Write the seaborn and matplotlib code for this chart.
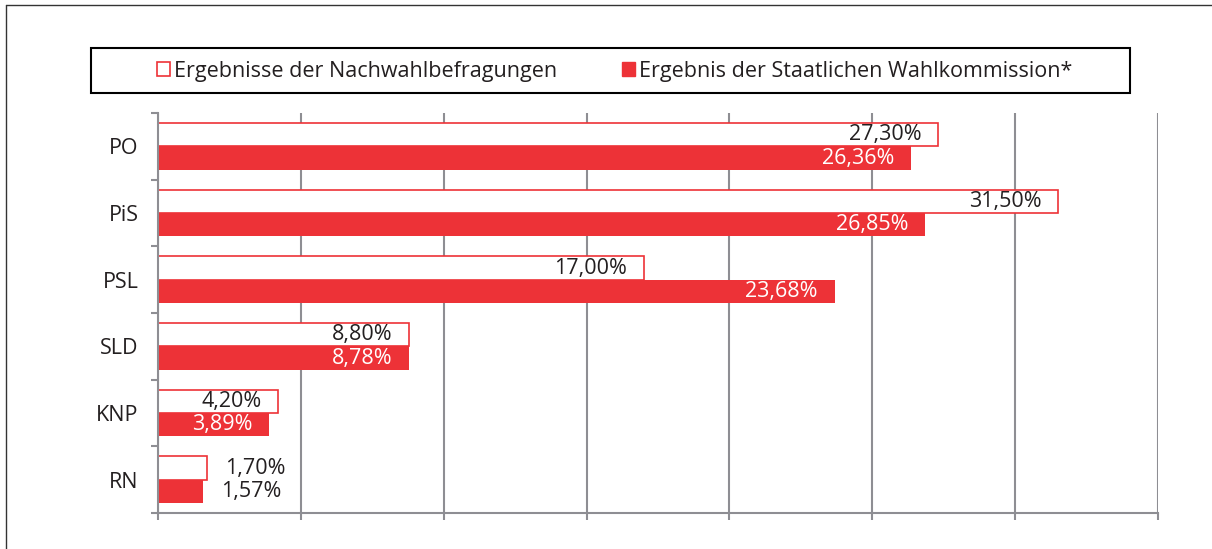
import matplotlib
matplotlib.use("Agg")
import matplotlib.pyplot as plt
import seaborn as sns
import pandas as pd
from matplotlib.patches import Patch, Rectangle
from matplotlib.lines import Line2D
from matplotlib.ticker import FixedLocator, NullFormatter

# data
parties = ["PO", "PiS", "PSL", "SLD", "KNP", "RN"]
exit_poll = [27.30, 31.50, 17.00, 8.80, 4.20, 1.70]
official = [26.36, 26.85, 23.68, 8.78, 3.89, 1.57]
series = ["Ergebnisse der Nachwahlbefragungen", "Ergebnis der Staatlichen Wahlkommission*"]

df = pd.DataFrame({
    "party": parties * 2,
    "value": exit_poll + official,
    "series": [series[0]] * len(parties) + [series[1]] * len(parties),
})

red = "#ED3237"
grid_c = "#8E8E93"
txt_c = "#231F20"
fs = 15.5

sns.set_theme(style="white")
plt.rcParams["font.family"] = ["Open Sans", "DejaVu Sans"]

fig = plt.figure(figsize=(12.12, 5.49), dpi=100)
ax = fig.add_axes([158 / 1212, 1 - 513 / 549, 1000 / 1212, 400 / 549])

sns.barplot(data=df, y="party", x="value", hue="series", order=parties,
            hue_order=series, palette=[red, red], width=0.7, orient="h",
            ax=ax, legend=False, saturation=1)

# hollow bars for exit poll
for p in ax.containers[0]:
    p.set_facecolor("white")
    p.set_edgecolor(red)
    p.set_linewidth(1.2)
for p in ax.containers[1]:
    p.set_edgecolor("none")

# value labels
for ci, cont in enumerate(ax.containers):
    for p in cont:
        v = p.get_width()
        yc = p.get_y() + p.get_height() / 2
        lab = f"{v:.2f}".replace(".", ",") + "%"
        if v >= 3:
            ax.annotate(lab, xy=(v, yc), xytext=(-12, 0), textcoords="offset points",
                        ha="right", va="center", fontsize=fs,
                        color=txt_c if ci == 0 else "white")
        else:
            ax.annotate(lab, xy=(v, yc), xytext=(13, 0), textcoords="offset points",
                        ha="left", va="center", fontsize=fs, color=txt_c)

ax.set_xlim(0, 35)
ax.set_ylim(len(parties) - 0.5, -0.5)
ax.set_xticks(range(0, 36, 5))
ax.xaxis.set_major_formatter(NullFormatter())
ax.grid(axis="x", color=grid_c, linewidth=1.5)
ax.grid(axis="y", visible=False)
ax.set_axisbelow(True)
ax.set_xlabel("")
ax.set_ylabel("")

ax.yaxis.set_minor_locator(FixedLocator([i - 0.5 for i in range(len(parties) + 1)]))
ax.tick_params(axis="y", which="major", length=0, pad=14, labelsize=fs, labelcolor=txt_c)
ax.tick_params(axis="y", which="minor", left=True, length=5, width=1.5, color=grid_c, direction="out")
ax.tick_params(axis="x", which="major", bottom=True, length=5, width=1.5, color=grid_c, direction="out")

for s in ["top", "right"]:
    ax.spines[s].set_visible(False)
for s in ["left", "bottom"]:
    ax.spines[s].set_color(grid_c)
    ax.spines[s].set_linewidth(1.5)

# legend in a box
handles = [Patch(facecolor="white", edgecolor=red, linewidth=1.2),
           Patch(facecolor=red, edgecolor=red)]
fig.legend(handles, series, loc="center left",
           bbox_to_anchor=((157 - 0.4 * fs * 100 / 72) / 1212, 1 - 71 / 549),
           ncol=2, frameon=False, fontsize=fs, handlelength=0.6, handleheight=0.6,
           handletextpad=0.2, columnspacing=3.0, labelcolor=txt_c, borderaxespad=0)
fig.add_artist(Rectangle((91 / 1212, 1 - 93 / 549), 1039 / 1212, 45 / 549,
                         transform=fig.transFigure, fill=False, edgecolor="black", linewidth=1.5))

# outer frame lines
fig.add_artist(Line2D([6 / 1212, 6 / 1212], [0, 1 - 5 / 549], transform=fig.transFigure,
                      color="#333333", linewidth=1))
fig.add_artist(Line2D([6 / 1212, 1], [1 - 5 / 549, 1 - 5 / 549], transform=fig.transFigure,
                      color="#333333", linewidth=1))

fig.savefig("out.png", dpi=100)
